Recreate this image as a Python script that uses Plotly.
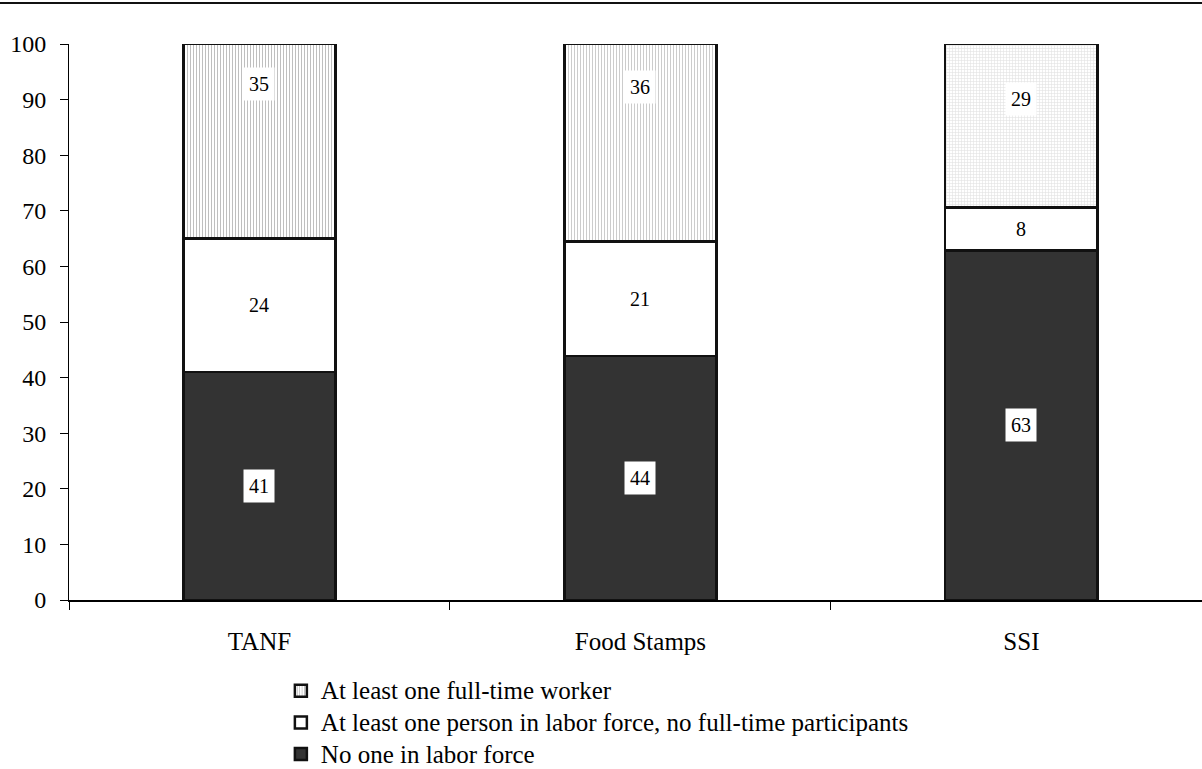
import plotly.graph_objects as go

# ---- data ----
categories = ["TANF", "Food Stamps", "SSI"]
series_names = [
    "No one in labor force",
    "At least one person in labor force, no full-time participants",
    "At least one full-time worker",
]
no_one = [41.0, 43.9, 62.9]
some_lf = [24.0, 20.6, 7.7]
full_time = [35.0, 35.5, 29.4]
no_one_labels = ["41", "44", "63"]
some_lf_labels = ["24", "21", "8"]
full_time_labels = ["35", "36", "29"]
y_ticks = list(range(0, 101, 10))

FONT = "Liberation Serif"


def legend_name(s):
    return '<span style="font-size:25px">' + s + "</span>"


fig = go.Figure()

fig.add_trace(go.Bar(
    x=categories, y=no_one, name=legend_name(series_names[0]),
    marker=dict(color="#333333", line=dict(color="#111111", width=2.5)),
))
fig.add_trace(go.Bar(
    x=categories, y=some_lf, name=legend_name(series_names[1]),
    marker=dict(color="#ffffff", line=dict(color="#111111", width=2.5)),
))
fig.add_trace(go.Bar(
    x=categories, y=full_time, name=legend_name(series_names[2]),
    marker=dict(
        color="#ffffff",
        line=dict(color="#111111", width=2.5),
        pattern=dict(shape=["|", "|", "+"], fgcolor=["#808080", "#999999", "#c4c4c4"],
                     bgcolor="#ffffff", size=3, solidity=0.35, fillmode="overlay"),
    ),
))

# data labels via annotations (white boxed)
top_label_shift = [57, 56, 27]
annotations = []
for i, c in enumerate(categories):
    b1 = no_one[i]
    b2 = no_one[i] + some_lf[i]
    annotations.append(dict(x=c, y=no_one[i] / 2, text=no_one_labels[i], showarrow=False,
                            bgcolor="#ffffff", borderpad=5,
                            font=dict(family=FONT, size=20, color="#000")))
    annotations.append(dict(x=c, y=b1 + some_lf[i] / 2, text=some_lf_labels[i], showarrow=False,
                            bgcolor="#ffffff", borderpad=3,
                            font=dict(family=FONT, size=20, color="#000")))
    annotations.append(dict(x=c, y=b2 + full_time[i] / 2, text=full_time_labels[i], showarrow=False,
                            yshift=top_label_shift[i], bgcolor="#ffffff", borderpad=5,
                            font=dict(family=FONT, size=20, color="#000")))

fig.update_layout(
    width=1202, height=769,
    margin=dict(l=69, r=0, t=44, b=169, autoexpand=False),
    paper_bgcolor="#ffffff", plot_bgcolor="#ffffff",
    barmode="stack", bargap=0.6,
    font=dict(family=FONT, size=25, color="#000"),
    showlegend=True,
    legend=dict(
        traceorder="reversed", orientation="v",
        x=0.187, xanchor="left", y=-0.126, yanchor="top",
        font=dict(family=FONT, size=22, color="#000"),
        itemwidth=30,
        bgcolor="rgba(0,0,0,0)",
    ),
    annotations=annotations,
    shapes=[dict(type="line", xref="paper", yref="paper",
                 x0=-0.07, x1=1.01, y0=1.0737, y1=1.0737,
                 line=dict(color="#111111", width=2))],
    xaxis=dict(
        type="category", range=[-0.5, 2.474], automargin=False,
        showline=True, linecolor="#000", linewidth=1.5,
        ticks="outside", tickson="boundaries", ticklen=8, tickcolor="#000", tickwidth=1,
        showgrid=False, zeroline=False,
        tickfont=dict(family=FONT, size=25, color="#000"),
        ticklabelstandoff=18,
    ),
    yaxis=dict(
        range=[0, 100], tickvals=y_ticks, automargin=False,
        showline=True, linecolor="#000", linewidth=1,
        ticks="outside", ticklen=8, tickcolor="#000", tickwidth=1,
        showgrid=False, zeroline=False,
        tickfont=dict(family=FONT, size=24, color="#000"),
        ticklabelstandoff=9,
    ),
)

fig.write_html(
    "out.html",
    config={"displayModeBar": False},
    post_script="document.body.style.margin='0';document.body.style.overflow='hidden';",
)
